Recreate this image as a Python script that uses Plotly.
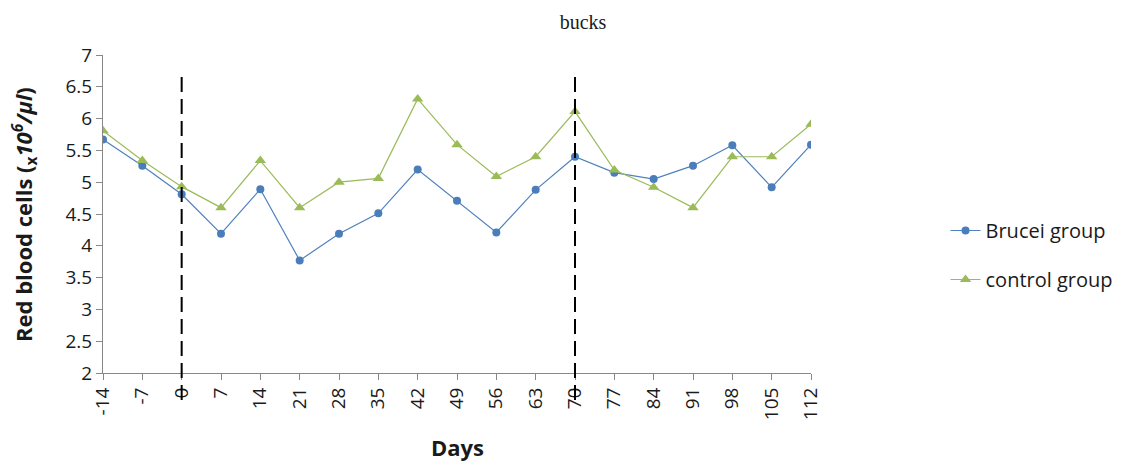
import plotly.graph_objects as go

days = [-14, -7, 0, 7, 14, 21, 28, 35, 42, 49, 56, 63, 70, 77, 84, 91, 98, 105, 112]
brucei = [5.67, 5.26, 4.81, 4.19, 4.89, 3.77, 4.19, 4.51, 5.2, 4.71, 4.21, 4.88, 5.4, 5.15, 5.05, 5.26, 5.58, 4.92, 5.59]
control = [5.81, 5.34, 4.93, 4.6, 5.34, 4.6, 5.0, 5.06, 6.31, 5.59, 5.09, 5.4, 6.11, 5.19, 4.92, 4.6, 5.4, 5.4, 5.91]
event_days = [0, 70]
x_range = [-14, 112]
y_range = [2, 7]
y_ticks = [2, 2.5, 3, 3.5, 4, 4.5, 5, 5.5, 6, 6.5, 7]
dash_top = 6.72

FONT = "Open Sans, Lato, sans-serif"
tick_font = dict(family=FONT, size=19, color="#1a1a1a")

fig = go.Figure()
fig.add_trace(go.Scatter(
    x=days, y=brucei, mode="lines+markers", name="Brucei group",
    line=dict(color="#4f81bd", width=1.2),
    marker=dict(symbol="circle", size=8, color="#4a7ebb"),
    legendgroup="a",
))
fig.add_trace(go.Scatter(
    x=days, y=control, mode="lines+markers", name="control group",
    line=dict(color="#9bbb59", width=1.2),
    marker=dict(symbol="triangle-up", size=10, color="#9bbb59"),
    legendgroup="b",
))

span = x_range[1] - x_range[0]
for d in event_days:
    xp = (d - x_range[0]) / span
    fig.add_shape(type="line", xref="paper", yref="paper",
                  x0=xp, x1=xp, y0=-0.085,
                  y1=(dash_top - y_range[0]) / (y_range[1] - y_range[0]),
                  line=dict(color="black", width=2, dash="15px,7px"))

# axis titles as annotations for precise placement
fig.add_annotation(text="<b>Days</b>", xref="paper", yref="paper", x=0.5, y=-0.233,
                   xanchor="center", yanchor="middle", showarrow=False,
                   font=dict(family=FONT, size=22, color="#1a1a1a"))
fig.add_annotation(text="<b>Red blood cells (<sub>x</sub><i>10<sup>6</sup>/μl</i>)</b>",
                   xref="paper", yref="paper", x=-0.1116, y=0.5, textangle=-90,
                   xanchor="center", yanchor="middle", showarrow=False,
                   font=dict(family=FONT, size=22, color="#1a1a1a"))

fig.update_layout(
    width=1122, height=453,
    margin=dict(l=95, r=319, t=47, b=88),
    paper_bgcolor="white", plot_bgcolor="white",
    showlegend=True,
    title=dict(text="bucks", x=0.5125, xref="container", y=0.969, yref="container",
               xanchor="center", yanchor="middle",
               font=dict(family="Liberation Serif, serif", size=20, color="#1a1a1a")),
    legend=dict(x=1.19, y=0.371, xanchor="left", yanchor="middle",
                font=dict(family=FONT, size=20, color="#1a1a1a"),
                traceorder="grouped", tracegroupgap=20,
                bgcolor="rgba(0,0,0,0)"),
    xaxis=dict(range=x_range, tickmode="array", tickvals=days,
               ticktext=[str(d) for d in days], tickangle=-90,
               showgrid=False, zeroline=False, showline=True,
               linecolor="#888", linewidth=1, ticks="outside", ticklen=6,
               tickcolor="#888", tickfont=tick_font, automargin=False),
    yaxis=dict(range=y_range, tickmode="array", tickvals=y_ticks,
               ticktext=[f"{v:g}" for v in y_ticks],
               showgrid=False, zeroline=False, showline=True,
               linecolor="#888", linewidth=1, ticks="outside", ticklen=6,
               tickcolor="#888", tickfont=tick_font, automargin=False),
)

fig.write_html("out.html")
